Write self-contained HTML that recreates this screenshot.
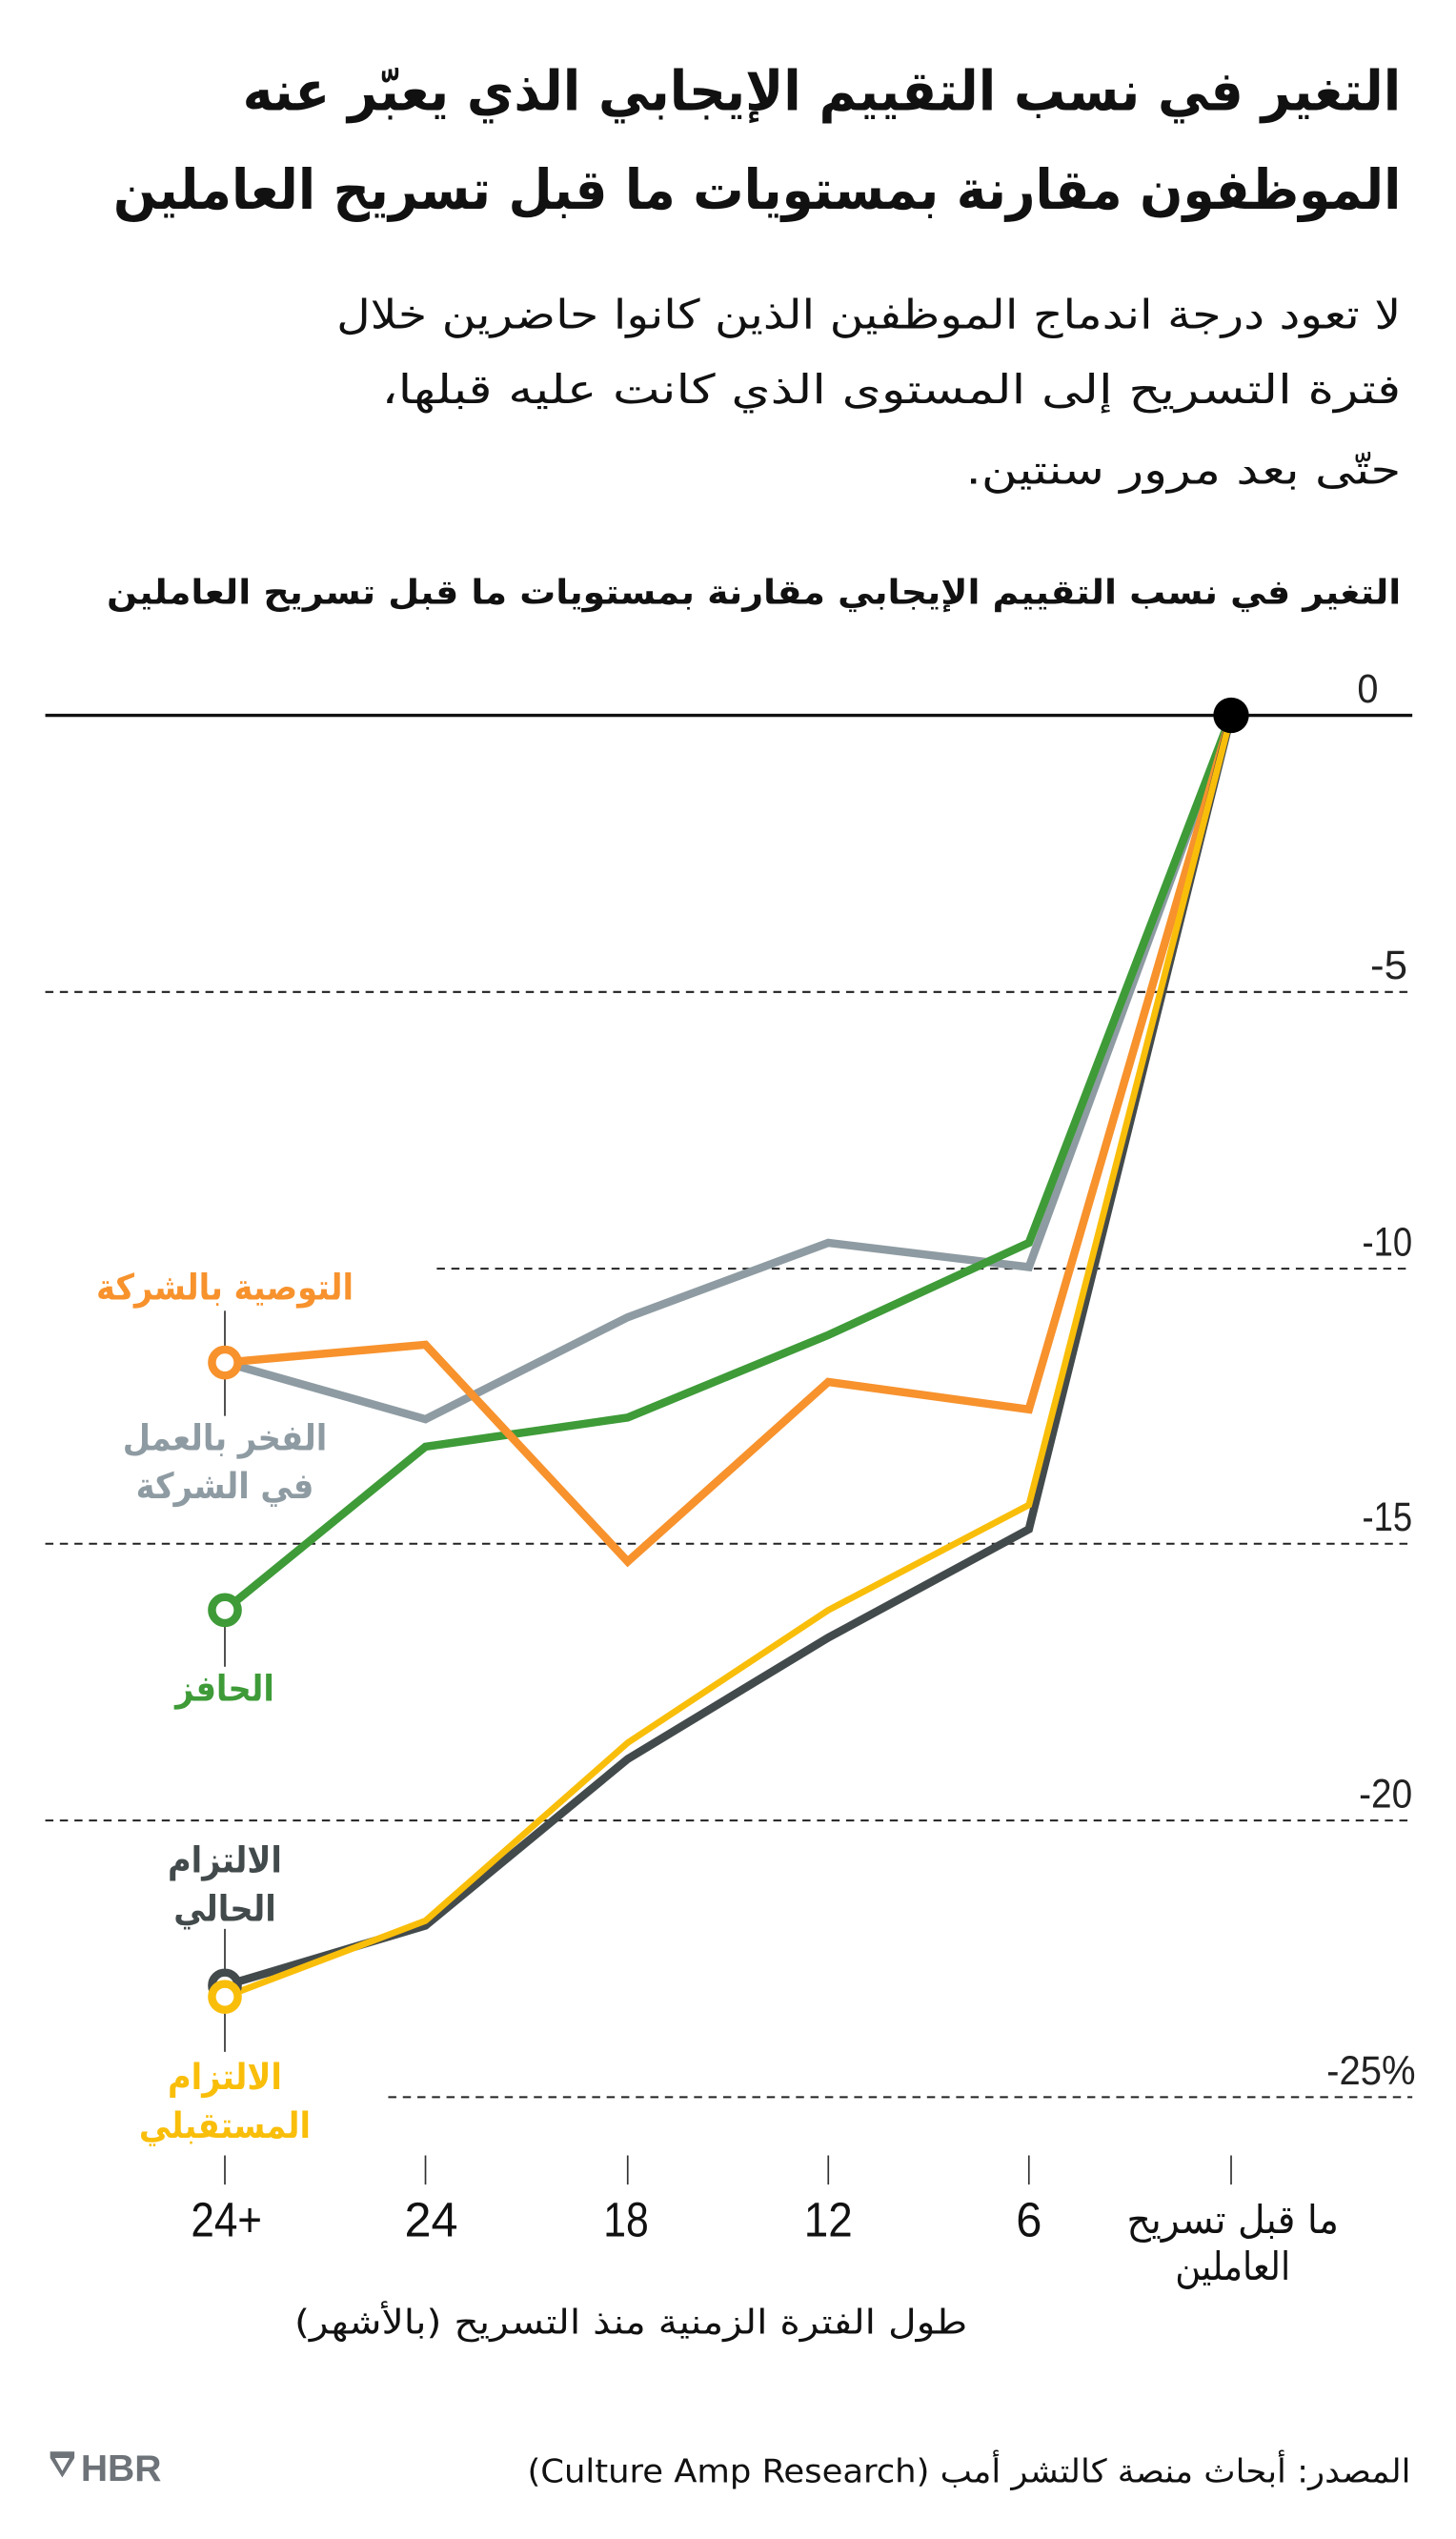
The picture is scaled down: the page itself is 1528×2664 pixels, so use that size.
<!DOCTYPE html>
<html><head><meta charset="utf-8"><style>
html,body{margin:0;padding:0;background:#fff;}
svg{display:block;}
.ar{font-family:"DejaVu Sans Condensed","DejaVu Sans",sans-serif;}
.num{font-family:"Liberation Sans Narrow","Liberation Sans",sans-serif;}
</style></head><body>
<svg width="1528" height="2664" viewBox="0 0 900 1569" xmlns="http://www.w3.org/2000/svg">
<rect width="900" height="1569" fill="#fff"/>
<g class="ar" direction="rtl" text-anchor="start" fill="#111">
<text x="866" y="68" font-size="34" font-weight="bold" textLength="716" lengthAdjust="spacingAndGlyphs">التغير في نسب التقييم الإيجابي الذي يعبّر عنه</text>
<text x="866" y="129" font-size="34" font-weight="bold" textLength="796" lengthAdjust="spacingAndGlyphs">الموظفون مقارنة بمستويات ما قبل تسريح العاملين</text>
<text x="866" y="203" font-size="25" textLength="658" lengthAdjust="spacingAndGlyphs">لا تعود درجة اندماج الموظفين الذين كانوا حاضرين خلال</text>
<text x="866" y="249" font-size="25" textLength="630" lengthAdjust="spacingAndGlyphs">فترة التسريح إلى المستوى الذي كانت عليه قبلها،</text>
<text x="866" y="299" font-size="25" textLength="269" lengthAdjust="spacingAndGlyphs">حتّى بعد مرور سنتين.</text>
<text x="866" y="373" font-size="21" font-weight="bold" textLength="800" lengthAdjust="spacingAndGlyphs">التغير في نسب التقييم الإيجابي مقارنة بمستويات ما قبل تسريح العاملين</text>
</g>
<g stroke="#222" stroke-width="1.2" stroke-dasharray="5,4">
<line x1="28" y1="613" x2="873" y2="613"/>
<line x1="270" y1="784" x2="873" y2="784"/>
<line x1="28" y1="954" x2="873" y2="954"/>
<line x1="28" y1="1125" x2="873" y2="1125"/>
<line x1="240" y1="1296" x2="873" y2="1296"/>
</g>
<line x1="28" y1="442" x2="873" y2="442" stroke="#111" stroke-width="2"/>
<g class="num" font-size="25" fill="#222">
<text x="839" y="434" textLength="13" lengthAdjust="spacingAndGlyphs">0</text>
<text x="847" y="605" textLength="23" lengthAdjust="spacingAndGlyphs">-5</text>
<text x="842" y="776" textLength="31" lengthAdjust="spacingAndGlyphs">-10</text>
<text x="842" y="946" textLength="31" lengthAdjust="spacingAndGlyphs">-15</text>
<text x="840" y="1117" textLength="33" lengthAdjust="spacingAndGlyphs">-20</text>
<text x="820" y="1288" textLength="55" lengthAdjust="spacingAndGlyphs">-25%</text>
</g>
<g stroke="#333" stroke-width="1">
<line x1="139" y1="810" x2="139" y2="832"/>
<line x1="139" y1="852" x2="139" y2="875"/>
<line x1="139" y1="1005" x2="139" y2="1030"/>
<line x1="139" y1="1192" x2="139" y2="1218"/>
<line x1="139" y1="1244" x2="139" y2="1268"/>
</g>
<g fill="none" stroke-width="5" stroke-linejoin="miter">
<polyline stroke="#8E9BA2" points="139,842 263,877 388,814 512,768 636,783 761,442"/>
<polyline stroke="#3E9B38" points="139,995 263,894 388,876 512,825 636,768 761,442"/>
<polyline stroke="#F7922D" points="139,842 263,831 388,965 512,854 636,871 761,442"/>
<polyline stroke="#434A4B" points="139,1227 263,1190 388,1087 512,1012 636,945 761,442"/>
<polyline stroke="#F9BE0A" stroke-width="4" points="139,1234 263,1187 388,1077 512,995 636,930 761,442"/>
</g>
<circle cx="761" cy="442" r="11" fill="#000"/>
<g fill="#fff" stroke-width="5">
<circle cx="139" cy="842" r="8" stroke="#F7922D"/>
<circle cx="139" cy="995" r="8" stroke="#3E9B38"/>
<circle cx="139" cy="1227" r="8" stroke="#434A4B"/>
<circle cx="139" cy="1234" r="8" stroke="#F9BE0A"/>
</g>
<g class="ar" text-anchor="middle" font-weight="bold" font-size="22">
<text x="139" y="803" fill="#F7922D">التوصية بالشركة</text>
<text x="139" y="896" fill="#8E9BA2">الفخر بالعمل</text>
<text x="139" y="926" fill="#8E9BA2">في الشركة</text>
<text x="139" y="1051" fill="#3E9B38">الحافز</text>
<text x="139" y="1157" fill="#434A4B">الالتزام</text>
<text x="139" y="1187" fill="#434A4B">الحالي</text>
<text x="139" y="1291" fill="#F9BE0A">الالتزام</text>
<text x="139" y="1321" fill="#F9BE0A">المستقبلي</text>
</g>
<g stroke="#333" stroke-width="1">
<line x1="139" y1="1332" x2="139" y2="1350"/>
<line x1="263" y1="1332" x2="263" y2="1350"/>
<line x1="388" y1="1332" x2="388" y2="1350"/>
<line x1="512" y1="1332" x2="512" y2="1350"/>
<line x1="636" y1="1332" x2="636" y2="1350"/>
<line x1="761" y1="1332" x2="761" y2="1350"/>
</g>
<g class="num" font-size="30" fill="#111">
<text x="118" y="1382" textLength="44" lengthAdjust="spacingAndGlyphs">24+</text>
<text x="250" y="1382" textLength="33" lengthAdjust="spacingAndGlyphs">24</text>
<text x="373" y="1382" textLength="28" lengthAdjust="spacingAndGlyphs">18</text>
<text x="497" y="1382" textLength="30" lengthAdjust="spacingAndGlyphs">12</text>
<text x="628" y="1382" textLength="16" lengthAdjust="spacingAndGlyphs">6</text>
</g>
<g class="ar" text-anchor="middle" fill="#111">
<text x="762" y="1380" font-size="24" direction="rtl" textLength="131" lengthAdjust="spacingAndGlyphs">ما قبل تسريح</text>
<text x="762" y="1409" font-size="24">العاملين</text>
<text x="390" y="1442" font-size="21" direction="rtl" textLength="416" lengthAdjust="spacingAndGlyphs">طول الفترة الزمنية منذ التسريح (بالأشهر)</text>
<text x="872" y="1534" font-size="20" direction="rtl" text-anchor="start" textLength="546" lengthAdjust="spacingAndGlyphs">المصدر: أبحاث منصة كالتشر أمب (Culture Amp Research)</text>
</g>
<g fill="#6d7378">
<path d="M31,1515 h15 v4 l-7.5,12 l-7.5,-12 z M34,1519 l4.5,8 l4.5,-8 z" fill-rule="evenodd"/>
<text x="50" y="1533" font-family="Liberation Sans Narrow, Liberation Sans, sans-serif" font-weight="bold" font-size="23">HBR</text>
</g>
</svg>
</body></html>
